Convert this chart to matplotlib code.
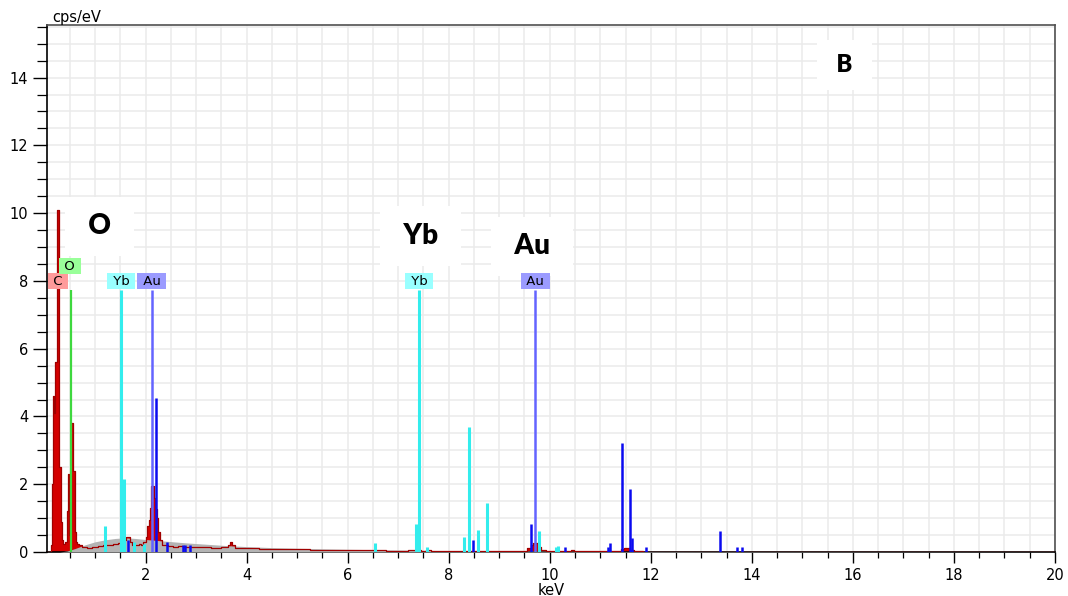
import matplotlib.pyplot as plt
from matplotlib.ticker import MultipleLocator

# Measured EDS spectrum (keV, cps/eV)
SPEC_KEV = [0.05, 0.12, 0.14, 0.16, 0.18, 0.20, 0.22, 0.24, 0.26, 0.28, 0.30, 0.32,
            0.34, 0.36, 0.38, 0.40, 0.42, 0.44, 0.46, 0.48, 0.50, 0.52, 0.54, 0.56,
            0.58, 0.60, 0.62, 0.64, 0.66, 0.70, 0.80, 0.90, 1.00, 1.10, 1.20, 1.30,
            1.40, 1.50, 1.56, 1.60, 1.64, 1.68, 1.72, 1.76, 1.80, 1.86, 1.90, 1.94,
            1.98, 2.00, 2.02, 2.04, 2.06, 2.08, 2.10, 2.12, 2.14, 2.16, 2.18, 2.20,
            2.22, 2.24, 2.26, 2.28, 2.30, 2.34, 2.40, 2.50, 2.60, 2.70, 2.80, 2.90,
            3.00, 3.20, 3.40, 3.60, 3.66, 3.70, 3.74, 3.80, 4.00, 4.50, 5.00, 5.50,
            6.00, 6.50, 7.00, 7.40, 7.50, 7.60, 7.70, 8.00, 8.50, 9.00, 9.50, 9.60,
            9.64, 9.68, 9.72, 9.76, 9.80, 9.84, 10.00, 10.40, 10.46, 10.50, 11.00,
            11.40, 11.44, 11.50, 11.56, 11.62, 11.70, 12.00, 14.00, 15.00, 16.00, 20.00]
SPEC_CPS = [0.0, 0.0, 0.2, 2.0, 4.6, 4.1, 5.6, 5.6, 10.1, 10.1, 2.5, 2.5,
            0.9, 0.35, 0.25, 0.25, 0.3, 0.3, 1.2, 2.3, 0.5, 0.5, 3.8, 3.8,
            2.4, 2.4, 0.6, 0.3, 0.25, 0.2, 0.15, 0.12, 0.15, 0.18, 0.2, 0.22,
            0.25, 0.28, 0.3, 0.35, 0.43, 0.43, 0.3, 0.22, 0.2, 0.22, 0.25, 0.2,
            0.3, 0.3, 0.45, 0.78, 0.78, 0.95, 1.3, 1.96, 1.96, 1.96, 1.6, 1.28,
            1.28, 1.0, 0.58, 0.58, 0.35, 0.22, 0.2, 0.18, 0.16, 0.17, 0.15, 0.15,
            0.15, 0.14, 0.13, 0.14, 0.22, 0.29, 0.22, 0.12, 0.11, 0.09, 0.08, 0.06,
            0.05, 0.045, 0.04, 0.06, 0.04, 0.06, 0.03, 0.03, 0.03, 0.025, 0.03, 0.12,
            0.2, 0.28, 0.28, 0.28, 0.15, 0.06, 0.02, 0.02, 0.06, 0.02, 0.02,
            0.04, 0.1, 0.12, 0.12, 0.06, 0.02, 0.015, 0.01, 0.005, 0.0, 0.0]

# Fitted bremsstrahlung background
BKG_KEV = [0.05, 0.30, 0.45, 0.60, 0.80, 1.00, 1.20, 1.40, 1.60, 1.80, 2.00, 2.40,
           2.80, 3.20, 3.60, 4.00, 4.50, 5.00, 6.00, 7.00, 8.00, 9.00, 10.00,
           12.00, 14.00, 20.00]
BKG_CPS = [0.0, 0.0, 0.03, 0.10, 0.21, 0.30, 0.36, 0.40, 0.42, 0.40, 0.37, 0.32,
           0.27, 0.23, 0.19, 0.16, 0.13, 0.11, 0.08, 0.06, 0.04, 0.03, 0.025,
           0.015, 0.01, 0.0]

# KLM marker lines (keV, relative height)
C_KEV = [0.277]
C_H = [7.72]
O_KEV = [0.525]
O_H = [7.72]
YB_KEV = [1.19, 1.521, 1.57, 1.77, 1.97, 6.55, 7.36, 7.415, 7.58, 8.30, 8.40,
          8.58, 8.76, 9.78, 10.12, 10.16]
YB_H = [0.76, 7.72, 2.14, 0.3, 0.25, 0.28, 0.84, 7.72, 0.15, 0.43, 3.7,
        0.66, 1.46, 0.63, 0.15, 0.17]
AU_KEV = [1.66, 2.123, 2.20, 2.43, 2.74, 2.79, 2.88, 8.49, 9.63, 9.713, 10.31,
          11.16, 11.20, 11.44, 11.58, 11.62, 11.90, 13.38, 13.71, 13.81]
AU_H = [0.34, 7.72, 4.53, 0.3, 0.2, 0.2, 0.2, 0.35, 0.83, 7.72, 0.15,
        0.15, 0.28, 3.23, 1.85, 0.4, 0.15, 0.62, 0.15, 0.15]

# element tags above the main lines
TAG_TEXT = ["C", "O", "Yb", "Au", "Yb", "Au"]
TAG_KEV = [0.27, 0.50, 1.52, 2.12, 7.415, 9.713]
TAG_Y = [7.8, 8.24, 7.8, 7.8, 7.8, 7.8]
TAG_COLORS = ["#ff9a9a", "#99ff99", "#99ffff", "#9b9bff", "#99ffff", "#9b9bff"]

# panel annotations
NOTE_TEXT = ["O", "Yb", "Au", "B"]
NOTE_KEV = [1.09, 7.45, 9.65, 15.84]
NOTE_Y = [9.61, 9.32, 9.02, 14.37]
NOTE_SIZE = [20, 20, 20, 17]


fig = plt.figure(figsize=(10.68, 5.96), dpi=100)
ax = fig.add_axes([0.0440, 0.0738, 0.9438, 0.8842])

ax.set_xlim(0.05, 20)
ax.set_ylim(0, 15.55)

ax.xaxis.set_major_locator(MultipleLocator(2))
ax.xaxis.set_minor_locator(MultipleLocator(0.5))
ax.yaxis.set_major_locator(MultipleLocator(2))
ax.yaxis.set_minor_locator(MultipleLocator(0.5))
ax.grid(which="both", color="#ebebeb", linewidth=1.1, zorder=0)
ax.set_axisbelow(True)

# faint C marker sits behind the spectrum
ax.vlines(C_KEV, 0, C_H, color="#f3b0b0", linewidth=2, zorder=1)

ax.fill_between(SPEC_KEV, 0, SPEC_CPS, step="mid", color="#d40000",
                linewidth=0, zorder=2)
ax.fill_between(BKG_KEV, 0, BKG_CPS, color="#b4b4b4", linewidth=0, zorder=3)
ax.step(SPEC_KEV, SPEC_CPS, where="mid", color="#a00000", linewidth=0.9, zorder=4)

ax.vlines(O_KEV, 0, O_H, color="#3ed83e", linewidth=1.6, zorder=5)
ax.vlines(YB_KEV, 0, YB_H, color="#33eded", linewidth=2.2, zorder=5)
au_colors = ["#6464ff" if h > 7 else "#0a0af0" for h in AU_H]
ax.vlines(AU_KEV, 0, AU_H, color=au_colors, linewidth=1.8, zorder=5)

for txt, e, y, fs in zip(NOTE_TEXT, NOTE_KEV, NOTE_Y, NOTE_SIZE):
    ax.text(e, y, f" {txt} ", ha="center", va="center", fontsize=fs,
            fontweight="heavy", family=["Lato", "DejaVu Sans"], zorder=6,
            bbox=dict(boxstyle="square,pad=0.6", fc="white", ec="none"))

for txt, e, y, fc in zip(TAG_TEXT, TAG_KEV, TAG_Y, TAG_COLORS):
    ax.text(e, y, f" {txt} ", ha="center", va="bottom", fontsize=9.5, zorder=7,
            bbox=dict(boxstyle="square,pad=0.1", fc=fc, ec="none"))

for side in ("left", "bottom"):
    ax.spines[side].set_color("black")
    ax.spines[side].set_linewidth(1.2)
for side in ("top", "right"):
    ax.spines[side].set_color("#505050")
    ax.spines[side].set_linewidth(1.2)

ax.tick_params(which="major", direction="out", length=8, width=1.0, labelsize=10.5)
ax.tick_params(which="minor", direction="out", length=4, width=0.9)
ax.tick_params(axis="y", which="major", length=10)
ax.tick_params(axis="y", which="minor", length=7)
ax.set_xticks([2, 4, 6, 8, 10, 12, 14, 16, 18, 20])
ax.set_yticks([0, 2, 4, 6, 8, 10, 12, 14])

ax.set_xlabel("keV", fontsize=10.5, labelpad=0)
fig.text(0.049, 0.971, "cps/eV", fontsize=10.5, ha="left", va="center")

fig.savefig("out.png", dpi=100)
